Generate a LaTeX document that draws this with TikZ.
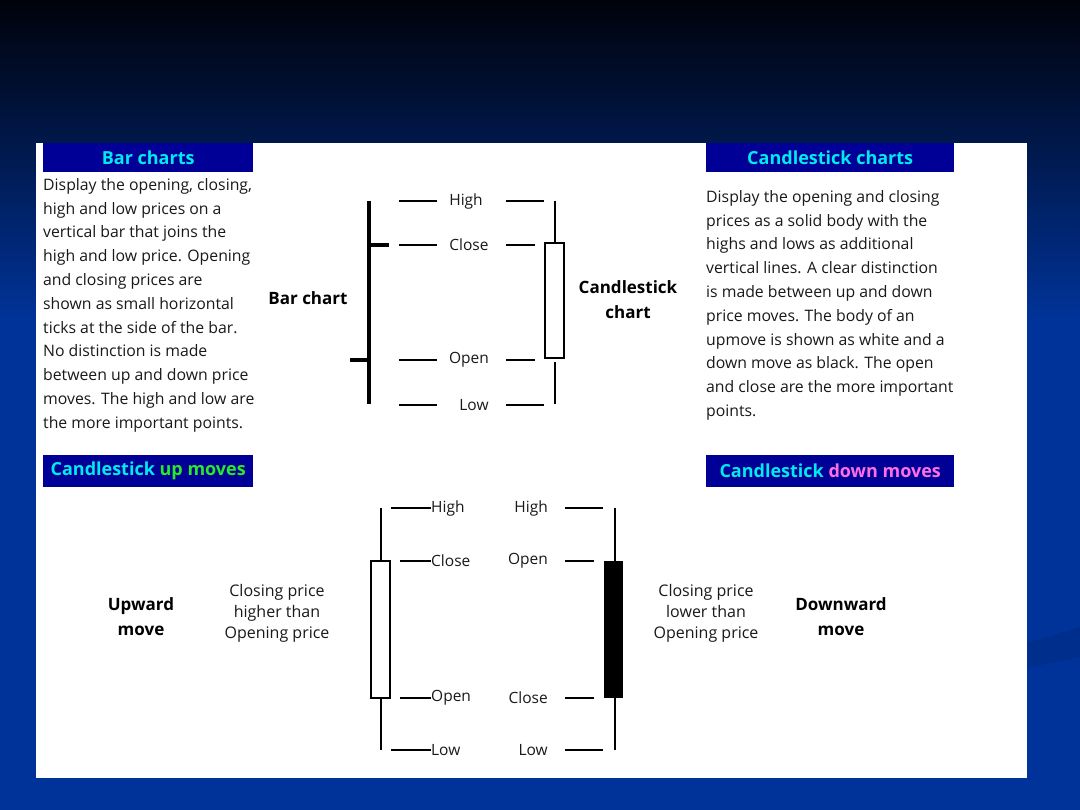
\documentclass[tikz,border=0pt]{standalone}
\usepackage{fontspec}
\setmainfont{Open Sans}
\usetikzlibrary{positioning}
\definecolor{headblue}{RGB}{0,0,150}
\definecolor{headcyan}{RGB}{0,235,240}
\definecolor{upgreen}{RGB}{40,235,40}
\definecolor{downpink}{RGB}{255,110,230}
\definecolor{bgtop}{RGB}{0,2,10}
\definecolor{bgbot}{RGB}{0,51,153}
\definecolor{bgband}{RGB}{0,46,140}
\definecolor{ink}{RGB}{25,25,25}

\begin{document}
\begin{tikzpicture}[x=1pt,y=-1pt, every node/.style={text=ink,inner sep=0pt},
  head/.style={fill=headblue,text=headcyan,font=\bfseries\fontsize{18}{21}\selectfont,minimum height=29,anchor=north west},
  body/.style={align=left,anchor=north west,font=\fontsize{15.8}{23.8}\selectfont},
  lbl/.style={font=\fontsize{15.5}{18}\selectfont},
  big/.style={align=center,font=\bfseries\fontsize{17}{25}\selectfont,text=black},
  note/.style={align=center,font=\fontsize{16}{21}\selectfont},
  wick/.style={line width=1.2pt},
  leader/.style={line width=1.1pt}]
% background and panel
\fill[bgbot] (0,0) rectangle (1080,810);
\shade[top color=bgtop,bottom color=bgbot] (0,0) rectangle (1080,320);
\fill[bgband] (1027,643) -- (1080,627) -- (1080,657) -- (1027,668) -- cycle;
\fill[white] (36,143) rectangle (1027,778);
% headings
\node[head,minimum width=210] (barhead) at (43,143) {Bar charts};
\node[head,minimum width=248] (candhead) at (706,143) {Candlestick charts};
\node[head,minimum width=210,minimum height=32] (uphead) at (43,455) {Candlestick \textcolor{upgreen}{up moves}};
\node[head,minimum width=248,minimum height=32] (downhead) at (706,455) {Candlestick \textcolor{downpink}{down moves}};
% descriptions
\node[body] (bartext) at (43,178) {Display the opening, closing,\\high and low prices on a\\vertical bar that joins the\\high and low price. Opening\\and closing prices are\\shown as small horizontal\\ticks at the side of the bar.\\No distinction is made\\between up and down price\\moves. The high and low are\\the more important points.};
\node[body] (candtext) at (706,190) {Display the opening and closing\\prices as a solid body with the\\highs and lows as additional\\vertical lines. A clear distinction\\is made between up and down\\price moves. The body of an\\upmove is shown as white and a\\down move as black. The open\\and close are the more important\\points.};
% bar chart and candlestick
\draw[line width=4pt] (369,201) -- (369,404);
\draw[line width=4pt] (369,245) -- (389,245);
\draw[line width=4pt] (350,360) -- (369,360);
\node[big] (barlbl) at (308,298) {Bar chart};
\node[big] (candlbl) at (628,300) {Candlestick\\chart};
\foreach \lvl/\yy/\xx/\rr in {High/201/466/544,Close/245/469/535,Open/360/469/535,Low/405/474/544}{
  \node[lbl] (bar\lvl) at (\xx,\yy) {\lvl};
  \draw[leader] (399,\yy) -- (437,\yy);
  \draw[leader] (506,\yy) -- (\rr,\yy);
}
\draw[wick] (555,201) -- (555,243);
\draw[wick,fill=white] (545,243) rectangle (564,358);
\draw[wick] (555,362) -- (555,404);
% up move candle
\draw[wick] (381,508) -- (381,561);
\draw[wick,fill=white] (371,561) rectangle (390,698);
\draw[wick] (381,698) -- (381,750);
\foreach \lvl/\yy/\dx in {High/508/391,Close/561/400,Open/698/400,Low/750/391}{
  \node[lbl,anchor=west] (up\lvl) at (431,\yy) {\lvl};
  \draw[leader] (\dx,\yy) -- (up\lvl.west);
}
% down move candle
\draw[wick] (615,508) -- (615,750);
\fill[black] (604,561) rectangle (623,698);
\foreach \lvl/\yy/\dx in {High/508/603,Open/561/594,Close/698/594,Low/750/603}{
  \node[lbl,anchor=east] (dn\lvl) at (548,\yy) {\lvl};
  \draw[leader] (565,\yy) -- (\dx,\yy);
}
% side notes
\node[big] (upmove) at (141,617) {Upward\\move};
\node[note] (upnote) at (277,613) {Closing price\\higher than\\Opening price};
\node[note] (dnnote) at (706,613) {Closing price\\lower than\\Opening price};
\node[big] (dnmove) at (841,617) {Downward\\move};
\end{tikzpicture}
\end{document}
